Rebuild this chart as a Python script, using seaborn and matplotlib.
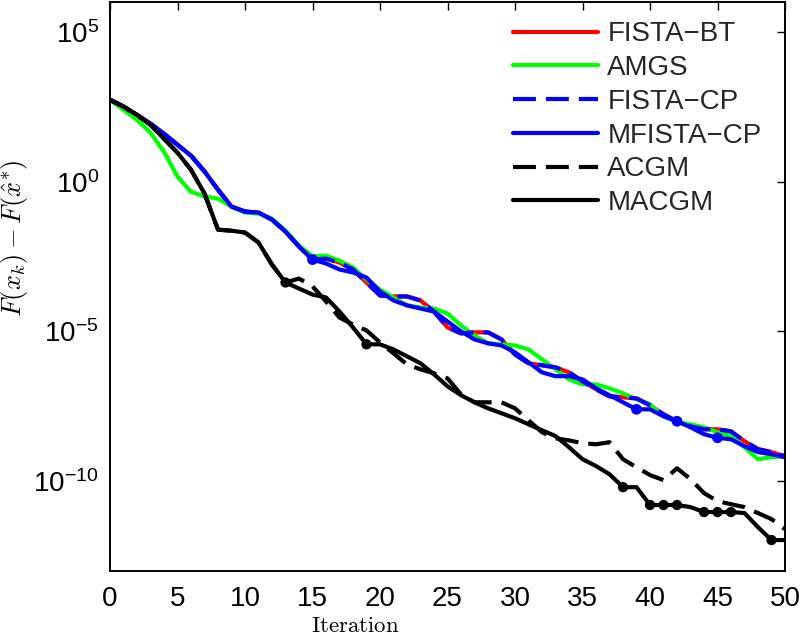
import matplotlib
matplotlib.use("Agg")
import matplotlib.pyplot as plt
import seaborn as sns
from matplotlib import font_manager
from matplotlib.ticker import FixedLocator, NullLocator, LogFormatterSciNotation

# ---------------- data ----------------
iterations = list(range(51))

fista_bt = [5.4e2, 3.2e2, 1.7e2, 86, 40, 17, 7.4, 2.2, 0.54, 0.147, 0.10, 0.093, 0.054, 0.0215, 6.8e-3, 2.5e-3,
            2.7e-3, 2.0e-3, 1.17e-3, 4.3e-4, 1.58e-4, 1.47e-4, 1.47e-4, 1.08e-4, 4.6e-5, 1.36e-5,
            8.6e-6, 9.3e-6, 9.3e-6, 5.4e-6, 1.7e-6, 8.6e-7, 7.4e-7, 6.3e-7, 4.3e-7, 2.15e-7,
            1.17e-7, 6.8e-8, 6.3e-8, 5.8e-8, 3.4e-8, 1.7e-8, 1.0e-8, 6.8e-9, 5.4e-9, 5.4e-9,
            4.6e-9, 2.15e-9, 1.17e-9, 9.3e-10, 6.8e-10]

amgs = [5.4e2, 2.5e2, 1.17e2, 43, 10, 1.47, 0.46, 0.32, 0.27, 0.147, 0.093, 0.086, 0.058, 0.023, 7.4e-3, 3.2e-3,
        3.4e-3, 2.3e-3, 1.36e-3, 5.4e-4, 2.5e-4, 1.36e-4, 7.4e-5, 6.3e-5, 5.8e-5, 4.0e-5,
        1.58e-5, 7.4e-6, 4.0e-6, 3.7e-6, 3.4e-6, 2.5e-6, 1.17e-6, 5.4e-7, 2.5e-7, 1.7e-7,
        1.7e-7, 1.26e-7, 8.6e-8, 5.4e-8, 3.7e-8, 1.47e-8, 9.3e-9, 7.9e-9, 6.3e-9, 4.3e-9,
        3.2e-9, 1.36e-9, 5.4e-10, 6.3e-10, 6.8e-10]

fista_cp = [5.4e2, 3.2e2, 1.7e2, 86, 40, 17, 7.4, 2.2, 0.54, 0.147, 0.10, 0.093, 0.054, 0.0215, 6.8e-3, 2.5e-3,
            2.7e-3, 2.0e-3, 1.17e-3, 4.3e-4, 1.58e-4, 1.47e-4, 1.47e-4, 1.08e-4, 4.6e-5, 1.36e-5,
            8.6e-6, 9.3e-6, 9.3e-6, 5.4e-6, 1.7e-6, 8.6e-7, 7.4e-7, 6.3e-7, 4.3e-7, 2.15e-7,
            1.17e-7, 6.8e-8, 6.3e-8, 5.8e-8, 3.4e-8, 1.7e-8, 1.0e-8, 6.8e-9, 5.4e-9, 5.4e-9,
            4.6e-9, 2.15e-9, 1.17e-9, 9.3e-10, 6.8e-10]

mfista_cp = [5.4e2, 3.2e2, 1.7e2, 86, 40, 17, 7.4, 2.2, 0.54, 0.147, 0.10, 0.093, 0.054, 0.0215, 6.8e-3, 2.5e-3,
             1.85e-3, 1.17e-3, 9.3e-4, 6.3e-4, 2.15e-4, 1.08e-4, 7.4e-5, 5.8e-5, 4.6e-5, 2.15e-5,
             1.0e-5, 5.4e-6, 4.0e-6, 3.4e-6, 2.0e-6, 9.3e-7, 4.3e-7, 3.2e-7, 3.2e-7, 2.5e-7,
             1.26e-7, 7.4e-8, 4.3e-8, 2.5e-8, 2.5e-8, 1.47e-8, 1.0e-8, 6.3e-9, 3.7e-9, 2.8e-9,
             2.5e-9, 1.47e-9, 9.3e-10, 7.9e-10, 6.3e-10]
mfista_restarts = [15, 39, 42, 45]

acgm = [5.4e2, 3.2e2, 1.7e2, 79, 27, 9.3, 2.5, 0.40, 0.025, 0.023, 0.020, 9.3e-3, 1.7e-3, 4.3e-4,
        5.8e-4, 3.2e-4, 1.0e-4, 2.9e-5, 1.7e-5, 1.08e-5, 4.3e-6, 1.85e-6, 7.9e-7, 5.4e-7,
        4.0e-7, 2.7e-7, 7.9e-8, 4.3e-8, 4.3e-8, 4.3e-8, 2.7e-8, 1.08e-8, 4.3e-9, 2.7e-9,
        2.3e-9, 1.85e-9, 1.7e-9, 2.0e-9, 5.4e-10, 2.9e-10, 1.6e-10, 1.08e-10, 2.7e-10,
        1.17e-10, 4.0e-11, 2.15e-11, 1.7e-11, 1.36e-11, 8.6e-12, 5.4e-12, 2.5e-12]

macgm = [5.4e2, 3.2e2, 1.7e2, 79, 27, 9.3, 2.5, 0.40, 0.025, 0.023, 0.020, 9.3e-3, 1.7e-3,
         4.3e-4, 2.7e-4, 1.7e-4, 1.36e-4, 4.6e-5, 1.36e-5, 3.7e-6, 3.7e-6, 2.5e-6, 1.47e-6,
         8.6e-7, 3.7e-7, 1.47e-7, 7.4e-8, 4.3e-8, 2.7e-8, 1.85e-8, 1.26e-8, 7.9e-9, 5.0e-9,
         3.2e-9, 1.36e-9, 5.4e-10, 3.2e-10, 1.7e-10, 6.3e-11, 6.3e-11, 1.6e-11, 1.6e-11,
         1.6e-11, 1.36e-11, 9.3e-12, 9.3e-12, 9.3e-12, 8.6e-12, 2.9e-12, 1.08e-12, 1.08e-12]
macgm_restarts = [13, 19, 38, 40, 41, 42, 44, 45, 46, 49]

x_ticks = [0, 5, 10, 15, 20, 25, 30, 35, 40, 45, 50]
y_ticks = [1e5, 1e0, 1e-5, 1e-10]

# ---------------- style ----------------
sns.set_theme(style="white")
avail = {f.name for f in font_manager.fontManager.ttflist}
main_font = next((n for n in ["Liberation Sans Narrow", "Liberation Sans", "DejaVu Sans"] if n in avail), "DejaVu Sans")
plt.rcParams["font.family"] = [main_font, "DejaVu Sans"]
plt.rcParams["mathtext.fontset"] = "cm"
plt.rcParams["axes.unicode_minus"] = True

fig = plt.figure(figsize=(8, 6.36), dpi=100)
ax = fig.add_axes([0.1375, 0.1022, 0.84375, 0.8947])

lw = 3.0
dash = (0, (5.5, 2.4))
sns.lineplot(x=iterations, y=fista_bt, ax=ax, color=(1, 0, 0), lw=lw, label="FISTA\u2212BT")
sns.lineplot(x=iterations, y=amgs, ax=ax, color=(0, 1, 0), lw=lw, label="AMGS")
sns.lineplot(x=iterations, y=fista_cp, ax=ax, color=(0, 0, 1), lw=lw, linestyle=dash, label="FISTA\u2212CP")
sns.lineplot(x=iterations, y=mfista_cp, ax=ax, color=(0, 0, 1), lw=lw, label="MFISTA\u2212CP")
sns.lineplot(x=iterations, y=acgm, ax=ax, color="black", lw=lw, linestyle=dash, label="ACGM")
sns.lineplot(x=iterations, y=macgm, ax=ax, color="black", lw=lw, label="MACGM")

sns.scatterplot(x=[iterations[i] for i in mfista_restarts], y=[mfista_cp[i] for i in mfista_restarts],
                ax=ax, color=(0, 0, 1), s=60, edgecolor="none", zorder=5, legend=False)
sns.scatterplot(x=[iterations[i] for i in macgm_restarts], y=[macgm[i] for i in macgm_restarts],
                ax=ax, color="black", s=55, edgecolor="none", zorder=6, legend=False)

ax.set_yscale("log")
ax.set_xlim(0, 50)
ax.set_ylim(1e-13, 1e6)
ax.xaxis.set_major_locator(FixedLocator(x_ticks))
ax.yaxis.set_major_locator(FixedLocator(y_ticks))
ax.yaxis.set_minor_locator(NullLocator())
ax.yaxis.set_major_formatter(LogFormatterSciNotation())
ax.tick_params(which="both", direction="in", top=True, right=True, length=6, width=1.0,
               labelsize=20, pad=8, colors="black")
ax.tick_params(axis="x", pad=11)
for sp in ax.spines.values():
    sp.set_visible(True)
    sp.set_color("black")
    sp.set_linewidth(1.4)
ax.grid(False)

ax.set_xlabel(r"$\mathrm{Iteration}$", fontsize=16.5, math_fontfamily="cm", color="black")
ax.set_ylabel(r"$F(x_k)-F(\hat{x}^{*})$", fontsize=19, math_fontfamily="cm", color="black")
ax.xaxis.set_label_coords(0.364, -0.076)
ax.yaxis.set_label_coords(-0.118, 0.585)

leg = ax.legend(loc="upper left", bbox_to_anchor=(0.597, 0.966), frameon=False, fontsize=20,
                handlelength=3.05, handletextpad=0.35, labelspacing=0.28, borderpad=0, borderaxespad=0)

fig.savefig("out.png", dpi=100)
